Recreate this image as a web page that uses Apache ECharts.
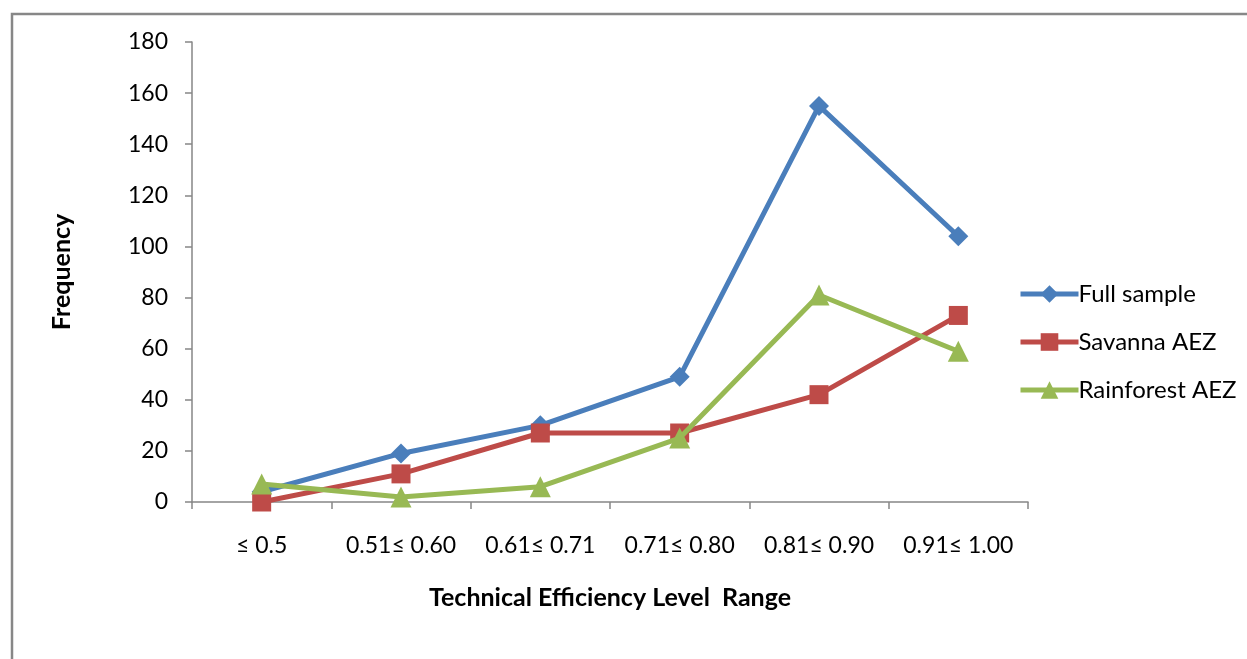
<!DOCTYPE html>
<html><head><meta charset="utf-8">
<script src="https://cdn.jsdelivr.net/npm/echarts@6/dist/echarts.min.js"></script>
<style>html,body{margin:0;padding:0;background:#fff}#c{width:1247px;height:659px}</style>
</head><body><div id="c"></div>
<script>
const categories = ['≤ 0.5', '0.51≤ 0.60', '0.61≤ 0.71', '0.71≤ 0.80', '0.81≤ 0.90', '0.91≤ 1.00'];
const fullSample = [4, 19, 30, 49, 155, 104];
const savanna = [0, 11, 27, 27, 42, 73];
const rainforest = [7, 2, 6, 25, 81, 59];
const yTicks = {min: 0, max: 180, interval: 20};

const font = 'Lato, "Open Sans", sans-serif';
const chart = echarts.init(document.getElementById('c'));
chart.setOption({
  animation: false,
  backgroundColor: '#fff',
  graphic: [{type: 'rect', shape: {x: 12, y: 14, width: 1300, height: 700}, style: {fill: 'none', stroke: '#878787', lineWidth: 2.5}, z: -1}],
  grid: {left: 192, top: 42, right: 219, bottom: 157},
  legend: {
    orient: 'vertical', left: 1013, top: 277, itemWidth: 58, itemHeight: 22, itemGap: 24,
    lineStyle: {width: 5},
    textStyle: {fontFamily: font, fontSize: 24, color: '#000', padding: [0, 0, 0, -5]},
    data: ['Full sample', 'Savanna AEZ', 'Rainforest AEZ']
  },
  xAxis: {
    type: 'category', data: categories, boundaryGap: true,
    name: 'Technical Efficiency Level  Range', nameLocation: 'middle', nameGap: 83,
    nameTextStyle: {fontFamily: font, fontSize: 25, fontWeight: 'bold', color: '#000'},
    axisLine: {lineStyle: {color: '#868686', width: 1.5}},
    axisTick: {show: true, interval: 0, length: 7, lineStyle: {color: '#868686', width: 1.5}},
    axisLabel: {interval: 0, fontFamily: font, fontSize: 23, color: '#000', margin: 32}
  },
  yAxis: {
    type: 'value', min: yTicks.min, max: yTicks.max, interval: yTicks.interval,
    name: 'Frequency', nameLocation: 'middle', nameGap: 118, nameRotate: 90,
    nameTextStyle: {fontFamily: font, fontSize: 25, fontWeight: 'bold', color: '#000'},
    axisLine: {show: true, lineStyle: {color: '#868686', width: 1.5}},
    axisTick: {show: true, length: 7, lineStyle: {color: '#868686', width: 1.5}},
    splitLine: {show: false},
    axisLabel: {fontFamily: font, fontSize: 23, color: '#000', margin: 24}
  },
  series: [
    {name: 'Full sample', type: 'line', data: fullSample, symbol: 'diamond', symbolSize: 20,
      lineStyle: {color: '#4A7EBB', width: 5}, itemStyle: {color: '#4A7EBB'}, z: 3},
    {name: 'Savanna AEZ', type: 'line', data: savanna, symbol: 'rect', symbolSize: 19,
      lineStyle: {color: '#BE4B48', width: 5}, itemStyle: {color: '#BE4B48'}, z: 4},
    {name: 'Rainforest AEZ', type: 'line', data: rainforest, symbol: 'triangle', symbolSize: 21,
      lineStyle: {color: '#98B954', width: 5}, itemStyle: {color: '#98B954'}, z: 5}
  ]
});
</script></body></html>
